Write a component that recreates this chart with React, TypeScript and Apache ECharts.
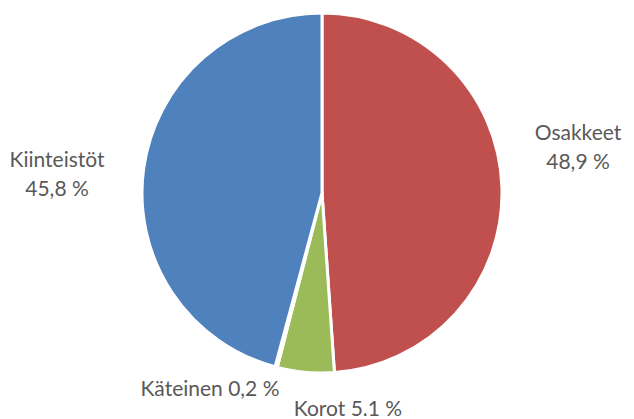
import React, { useEffect, useRef } from "react";
import * as echarts from "echarts";

const categories = ["Osakkeet", "Korot", "Käteinen", "Kiinteistöt"];
const values = [48.9, 5.1, 0.2, 45.8];
const valueLabels = ["48,9 %", "5.1 %", "0,2 %", "45,8 %"];
const twoLine = [true, false, false, true];
const colors = ["#C0504D", "#9BBB59", "#8064A2", "#4F81BD"];
const labelPos: [number, number][] = [
  [578, 146],
  [348, 407],
  [210, 387],
  [57, 173],
];

export default function App() {
  const ref = useRef<HTMLDivElement>(null);
  useEffect(() => {
    if (!ref.current) return;
    const chart = echarts.init(ref.current, undefined, { renderer: "svg" });
    chart.setOption({
      animation: false,
      backgroundColor: "#ffffff",
      series: [
        {
          type: "pie",
          center: [322, 193],
          radius: [0, 180],
          startAngle: 90,
          clockwise: true,
          avoidLabelOverlap: false,
          data: categories.map((c, i) => ({
            name: c,
            value: values[i],
            itemStyle: { color: colors[i] },
          })),
          itemStyle: { borderColor: "#ffffff", borderWidth: 3 },
          label: {
            show: true,
            position: "outside",
            color: "#595959",
            fontSize: 21,
            fontFamily: "Lato",
            lineHeight: 29,
            align: "center",
            formatter: (p: any) =>
              p.name + (twoLine[p.dataIndex] ? "\n" : " ") + valueLabels[p.dataIndex],
          },
          labelLine: { show: false },
          labelLayout: (p: any) => ({
            x: labelPos[p.dataIndex][0],
            y: labelPos[p.dataIndex][1],
            align: "center",
            verticalAlign: "middle",
          }),
          emphasis: { disabled: true },
        },
      ],
    });
    return () => chart.dispose();
  }, []);
  return (
    <div
      ref={ref}
      style={{ position: "fixed", left: 0, top: 0, width: 634, height: 419 }}
    />
  );
}
